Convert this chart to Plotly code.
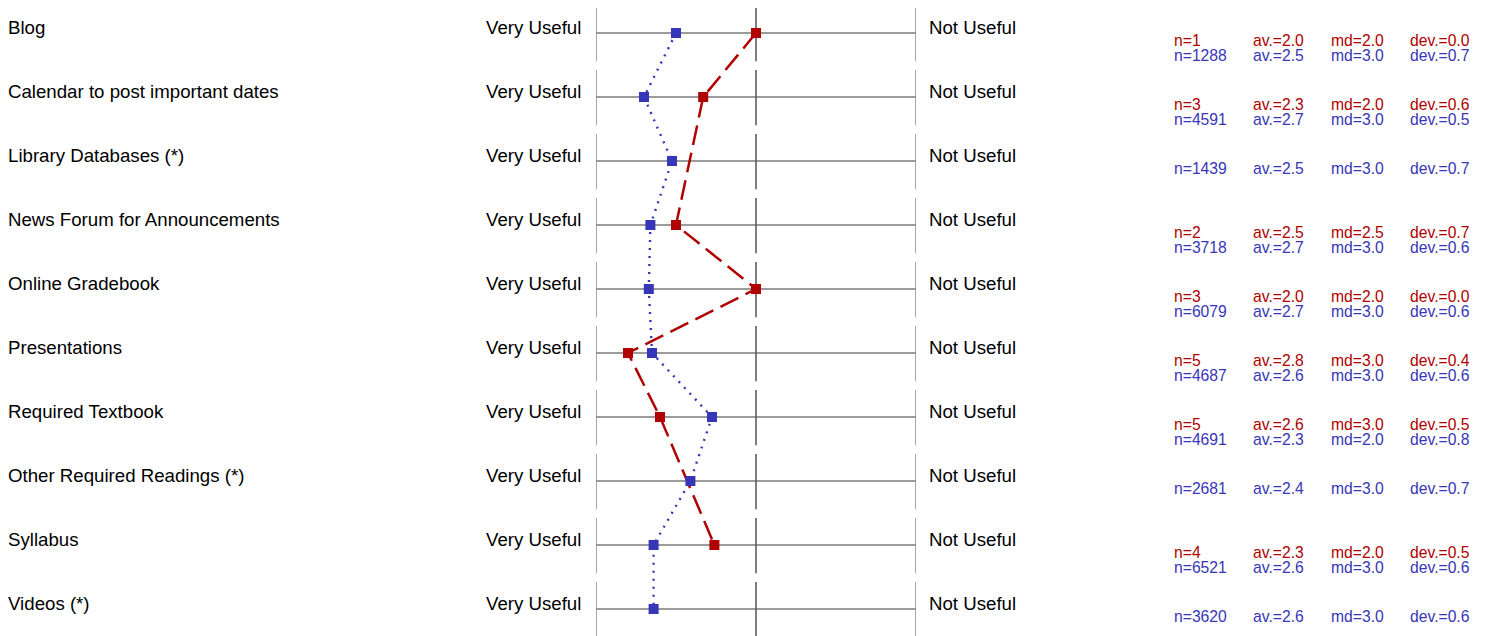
import plotly.graph_objects as go

categories = ["Blog", "Calendar to post important dates", "Library Databases (*)",
              "News Forum for Announcements", "Online Gradebook", "Presentations",
              "Required Textbook", "Other Required Readings (*)", "Syllabus", "Videos (*)"]

# plotted positions (3 = Very Useful, 1 = Not Useful)
red_vals = [2.0, 2.33, None, 2.5, 2.0, 2.8, 2.6, None, 2.26, None]
blue_vals = [2.5, 2.7, 2.525, 2.66, 2.67, 2.65, 2.275, 2.41, 2.64, 2.64]

red_n = [1, 3, None, 2, 3, 5, 5, None, 4, None]
red_av = [2.0, 2.3, None, 2.5, 2.0, 2.8, 2.6, None, 2.3, None]
red_md = [2.0, 2.0, None, 2.5, 2.0, 3.0, 3.0, None, 2.0, None]
red_dev = [0.0, 0.6, None, 0.7, 0.0, 0.4, 0.5, None, 0.5, None]

blue_n = [1288, 4591, 1439, 3718, 6079, 4687, 4691, 2681, 6521, 3620]
blue_av = [2.5, 2.7, 2.5, 2.7, 2.7, 2.6, 2.3, 2.4, 2.6, 2.6]
blue_md = [3.0, 3.0, 3.0, 3.0, 3.0, 3.0, 2.0, 3.0, 3.0, 3.0]
blue_dev = [0.7, 0.5, 0.7, 0.6, 0.6, 0.6, 0.8, 0.7, 0.6, 0.6]

left_label = "Very Useful"
right_label = "Not Useful"

RED = "#b00000"
BLUE = "#3636b8"
FONT = "Liberation Sans, Arial, sans-serif"
LABEL_SIZE = 18.67
STAT_SIZE = 15.7

OFF = 8  # page body margin
W, H = 1491 - OFF, 636 - OFF
rows = list(range(len(categories)))


def px(xref_px, pad=0):
    return (xref_px - OFF + pad) / W


fig = go.Figure()

fig.add_trace(go.Scatter(
    x=red_vals, y=rows, mode="lines+markers", connectgaps=True,
    line=dict(color=RED, width=2.5, dash="20px,8px"),
    marker=dict(symbol="square", size=10, color=RED),
    hoverinfo="skip", showlegend=False))
fig.add_trace(go.Scatter(
    x=blue_vals, y=rows, mode="lines+markers", connectgaps=True,
    line=dict(color=BLUE, width=2.4, dash="2px,6px"),
    marker=dict(symbol="square", size=10, color=BLUE),
    hoverinfo="skip", showlegend=False))

shapes = []
annotations = []
for i, cat in enumerate(categories):
    shapes.append(dict(type="line", xref="x", yref="y", x0=3, x1=1, y0=i, y1=i,
                       line=dict(color="#7a7a7a", width=1.5), layer="below"))
    for xv, col in [(3, "#8a8a8a"), (2, "#555555"), (1, "#8a8a8a")]:
        shapes.append(dict(type="line", xref="x", yref="y", x0=xv, x1=xv,
                           y0=i - 0.42, y1=i + 0.44,
                           line=dict(color=col, width=1.5), layer="below"))
    annotations.append(dict(x=px(8, -2), y=i - 0.08, xref="paper", yref="y", text=cat,
                            showarrow=False, xanchor="left", yanchor="middle",
                            font=dict(size=LABEL_SIZE, color="#000000", family=FONT)))
    annotations.append(dict(x=px(581, 2), y=i - 0.08, xref="paper", yref="y", text=left_label,
                            showarrow=False, xanchor="right", yanchor="middle",
                            font=dict(size=LABEL_SIZE, color="#000000", family=FONT)))
    annotations.append(dict(x=px(929, -2), y=i - 0.08, xref="paper", yref="y", text=right_label,
                            showarrow=False, xanchor="left", yanchor="middle",
                            font=dict(size=LABEL_SIZE, color="#000000", family=FONT)))
    lines = []
    if red_n[i] is not None:
        lines.append((RED, red_n[i], red_av[i], red_md[i], red_dev[i]))
    lines.append((BLUE, blue_n[i], blue_av[i], blue_md[i], blue_dev[i]))
    offsets = [0.117, 0.35]
    for k, (col, n, av, md, dv) in enumerate(lines):
        yy = i + offsets[k]
        texts = [f"n={n}", f"av.={av:.1f}", f"md={md:.1f}", f"dev.={dv:.1f}"]
        for xp, t in zip([1174, 1253, 1331, 1410], texts):
            annotations.append(dict(x=px(xp, -2), y=yy, xref="paper", yref="y", text=t,
                                    showarrow=False, xanchor="left", yanchor="middle",
                                    font=dict(size=STAT_SIZE, color=col, family=FONT)))

fig.update_layout(
    width=W, height=H,
    margin=dict(l=0, r=0, t=0, b=0),
    paper_bgcolor="white", plot_bgcolor="white",
    shapes=shapes, annotations=annotations,
    xaxis=dict(domain=[(596 - OFF) / W, (916 - OFF) / W], range=[3, 1],
               visible=False, fixedrange=True),
    yaxis=dict(domain=[0, 1], range=[(H - (33 - OFF)) / 64, -(33 - OFF) / 64],
               visible=False, fixedrange=True),
)

fig.write_html("out.html", config={"displayModeBar": False})
